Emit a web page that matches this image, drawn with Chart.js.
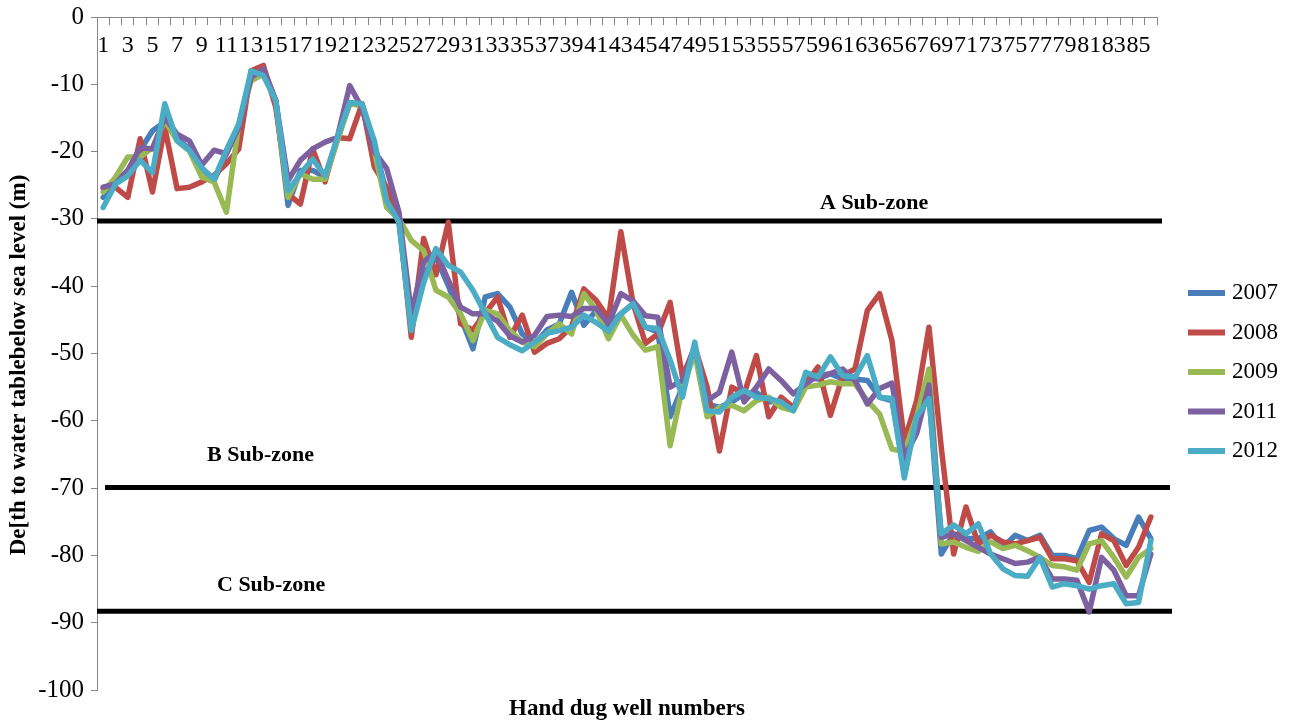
<!DOCTYPE html>
<html>
<head>
<meta charset="utf-8">
<title>Depth to water table of hand dug wells</title>
<script src="https://cdn.jsdelivr.net/npm/chart.js@4.4.1/dist/chart.umd.min.js"></script>
<style>
  html, body { margin: 0; padding: 0; background: #ffffff; }
  #wrap { width: 1290px; height: 727px; }
</style>
</head>
<body>
<div id="wrap"><canvas id="chart" width="1290" height="727"></canvas></div>
<script>
// Well numbers along the category axis
const wells = [
  '1','2','3','4','5','6','7','8','9','10','11','12','13','14','15','16','17','18','19','20',
  '21','22','23','24','25','26','27','28','29','30','31','32','33','34','35','36','37','38','39','40',
  '41','42','43','44','45','46','47','48','49','50','51','52','53','54','55','56','57','58','59','60',
  '61','62','63','64','65','66','67','68','69','70','71','72','73','74','75','76','77','78','79','80',
  '81','82','83','84','85','86'
];

// Survey years
const years = ['2007', '2008', '2009', '2011', '2012'];

// Depth to water table below sea level (m), one value per well
const d2007 = [
  -26.8,-24.5,-22.8,-19.8,-16.9,-15.6,-18.1,-19.6,-22.5,-24.3,
  -20.3,-16.1,-8.5,-7.7,-12.4,-28.0,-22.8,-22.8,-23.8,-18.1,
  -12.9,-12.9,-18.9,-26.3,-30.5,-46.3,-38.2,-35.7,-39.9,-44.6,
  -49.3,-41.6,-41.1,-43.1,-47.1,-48.6,-46.5,-45.6,-40.9,-45.8,
  -43.6,-45.8,-44.1,-42.6,-46.1,-46.8,-59.4,-55.0,-49.0,-57.5,
  -58.0,-57.2,-56.0,-55.8,-57.2,-57.0,-58.3,-53.5,-53.8,-53.0,
  -53.8,-53.8,-54.0,-56.5,-57.0,-67.5,-60.0,-56.0,-79.8,-76.8,
  -77.5,-77.5,-76.5,-78.8,-77.0,-77.8,-77.0,-80.0,-80.0,-80.5,
  -76.3,-75.8,-77.5,-78.5,-74.3,-77.5
];
const d2008 = [
  -25.5,-25.3,-26.8,-18.1,-26.0,-16.4,-25.5,-25.3,-24.5,-23.5,
  -21.8,-19.6,-8.0,-7.2,-13.4,-26.3,-27.8,-19.6,-24.5,-17.9,
  -18.1,-12.9,-22.3,-25.3,-29.5,-47.6,-32.9,-38.3,-30.5,-45.6,
  -46.5,-44.0,-41.6,-47.6,-44.3,-49.8,-48.5,-47.8,-46.0,-40.4,
  -42.1,-44.8,-31.9,-42.6,-48.5,-47.1,-42.4,-53.5,-49.0,-55.0,
  -64.5,-55.0,-56.0,-50.3,-59.4,-56.5,-58.0,-54.5,-52.0,-59.2,
  -53.3,-52.3,-43.6,-41.1,-48.1,-63.0,-57.0,-46.1,-64.0,-79.8,
  -72.8,-78.3,-77.0,-78.0,-78.3,-77.8,-77.3,-80.5,-80.5,-80.8,
  -84.0,-76.8,-77.8,-81.5,-78.8,-74.3
];
const d2009 = [
  -26.0,-23.8,-20.8,-20.8,-19.4,-15.4,-18.4,-19.9,-23.8,-24.5,
  -29.0,-15.9,-9.5,-8.5,-12.4,-26.8,-23.3,-24.1,-24.1,-18.4,
  -12.9,-13.2,-19.9,-28.3,-30.0,-33.2,-34.7,-40.6,-41.6,-44.1,
  -48.1,-43.6,-44.1,-46.6,-48.3,-49.0,-47.1,-45.6,-47.1,-41.1,
  -43.6,-47.8,-44.3,-47.3,-49.5,-49.0,-63.7,-55.0,-50.0,-59.4,
  -58.0,-57.7,-58.5,-57.0,-56.5,-58.0,-58.5,-55.0,-54.7,-54.2,
  -54.5,-54.5,-57.0,-59.0,-64.2,-64.6,-59.4,-52.3,-78.3,-78.0,
  -78.8,-79.4,-78.0,-79.0,-78.5,-79.3,-80.3,-81.5,-81.7,-82.2,
  -78.3,-77.8,-80.3,-83.2,-80.3,-79.0
];
const d2011 = [
  -25.3,-24.8,-22.8,-19.4,-19.6,-14.9,-17.4,-18.4,-22.0,-19.8,
  -20.3,-16.4,-9.0,-7.7,-12.4,-24.3,-21.3,-19.6,-18.6,-17.9,
  -10.2,-13.5,-20.0,-22.5,-29.0,-44.0,-36.4,-34.9,-39.1,-43.1,
  -44.1,-44.1,-45.2,-47.4,-48.3,-47.3,-44.5,-44.3,-44.5,-43.3,
  -43.3,-45.6,-41.1,-42.2,-44.4,-44.6,-55.0,-54.0,-49.0,-57.0,
  -55.8,-49.8,-57.2,-55.0,-52.3,-54.0,-56.0,-54.5,-53.3,-53.0,
  -52.3,-54.0,-57.5,-55.2,-54.4,-65.4,-61.9,-54.7,-77.3,-76.8,
  -77.8,-78.8,-79.8,-80.5,-81.2,-81.0,-80.3,-83.5,-83.5,-83.7,
  -88.4,-80.3,-82.2,-86.0,-86.0,-79.8
];
const d2012 = [
  -28.3,-24.8,-23.6,-21.3,-23.1,-12.9,-18.4,-19.8,-22.4,-24.1,
  -19.8,-15.9,-8.0,-8.7,-12.4,-25.8,-23.3,-21.1,-23.6,-17.9,
  -12.7,-12.9,-18.4,-27.3,-30.5,-46.6,-39.5,-34.4,-36.9,-37.9,
  -40.6,-44.1,-47.6,-48.7,-49.6,-48.3,-47.0,-46.6,-46.1,-44.3,
  -45.4,-46.7,-44.1,-42.6,-46.1,-46.3,-51.0,-56.5,-48.3,-58.5,
  -58.7,-56.5,-55.5,-56.5,-56.7,-57.2,-58.5,-52.8,-53.5,-50.5,
  -53.3,-53.5,-50.3,-56.5,-56.7,-68.5,-59.4,-56.7,-76.8,-75.5,
  -76.8,-75.3,-79.8,-82.0,-83.0,-83.1,-80.3,-84.7,-84.2,-84.5,
  -85.0,-84.5,-84.2,-87.2,-87.0,-77.8
];

// Sub-zone boundaries (depth, m)
const zoneNames = ['A Sub-zone', 'B Sub-zone', 'C Sub-zone'];
const zoneDepths = [-30.3, -69.9, -88.3];

// Styling and placement
const seriesColors = ['#4A7EBB', '#BE4B48', '#98B954', '#7D60A0', '#4BACC6'];
const seriesValues = [d2007, d2008, d2009, d2011, d2012];
const zoneLayout = [
  { from: 0, past: 5,  labelX: 723, labelRise: 18 },
  { from: 8, past: 13, labelX: 110, labelRise: 32 },
  { from: 0, past: 15, labelX: 120, labelRise: 26 }
];
const SERIF = '"Liberation Serif", "Times New Roman", serif';
const AXIS_GREY = '#868686';

Chart.defaults.font.family = SERIF;
Chart.defaults.color = '#000000';

// Horizontal sub-zone boundaries with their names, beneath the series lines
const subZones = {
  id: 'subZones',
  beforeDatasetsDraw(chart) {
    const { ctx, chartArea: a, scales: { y } } = chart;
    ctx.save();
    ctx.strokeStyle = '#000000';
    ctx.lineWidth = 5;
    ctx.font = 'bold 22px ' + SERIF;
    ctx.fillStyle = '#000000';
    ctx.textAlign = 'left';
    ctx.textBaseline = 'middle';
    zoneDepths.forEach((depth, i) => {
      const py = y.getPixelForValue(depth);
      const z = zoneLayout[i];
      ctx.beginPath();
      ctx.moveTo(a.left + z.from, py);
      ctx.lineTo(a.right + z.past, py);
      ctx.stroke();
      ctx.fillText(zoneNames[i], a.left + z.labelX, py - z.labelRise);
    });
    ctx.restore();
  }
};

// Series key on the right and the rotated value-axis title
const sideText = {
  id: 'sideText',
  afterDraw(chart) {
    const { ctx } = chart;
    ctx.save();
    ctx.font = '23px ' + SERIF;
    ctx.textAlign = 'left';
    ctx.textBaseline = 'middle';
    chart.data.datasets.forEach((ds, i) => {
      const cy = 293 + i * 39.5;
      ctx.fillStyle = ds.borderColor;
      ctx.fillRect(1188, cy - 3, 37, 6);
      ctx.fillStyle = '#000000';
      ctx.fillText(ds.label, 1232, cy);
    });
    ctx.translate(19, 365);
    ctx.rotate(-Math.PI / 2);
    ctx.font = 'bold 23px ' + SERIF;
    ctx.textAlign = 'center';
    ctx.fillText('De[th to water tablebelow sea level (m)', 0, 0);
    ctx.restore();
  }
};

const datasets = years.map((yr, i) => ({
  label: yr,
  data: seriesValues[i],
  borderColor: seriesColors[i],
  backgroundColor: seriesColors[i],
  borderWidth: 5.5,
  pointRadius: 0,
  pointHoverRadius: 0,
  tension: 0,
  borderJoinStyle: 'round',
  borderCapStyle: 'round',
  order: years.length - i,
  xAxisID: 'x',
  yAxisID: 'y'
}));

new Chart(document.getElementById('chart'), {
  type: 'line',
  data: { labels: wells, datasets },
  plugins: [subZones, sideText],
  options: {
    responsive: false,
    animation: false,
    devicePixelRatio: 1,
    layout: { padding: { top: 17, right: 133, left: 0, bottom: 0 } },
    plugins: {
      legend: { display: false },
      tooltip: { enabled: false },
      title: { display: false }
    },
    scales: {
      x: {
        type: 'category',
        position: { y: 0 },
        offset: true,
        grid: {
          display: true,
          offset: true,
          drawOnChartArea: false,
          drawTicks: true,
          tickLength: 7,
          color: AXIS_GREY,
          lineWidth: 1
        },
        border: { display: true, color: AXIS_GREY, width: 1 },
        ticks: {
          autoSkip: false,
          maxRotation: 0,
          minRotation: 0,
          padding: 7,
          color: '#000000',
          font: { family: SERIF, size: 24 },
          callback: (v, i) => (i % 2 === 0 ? wells[i] : '')
        },
        afterFit: (s) => { s.paddingLeft = 0; s.paddingRight = 0; }
      },
      xTitle: {
        type: 'category',
        position: 'bottom',
        display: true,
        grid: { display: false },
        border: { display: false },
        ticks: { display: false },
        title: {
          display: true,
          text: 'Hand dug well numbers',
          color: '#000000',
          font: { family: SERIF, size: 23, weight: 'bold' },
          padding: { top: 4, bottom: 4 }
        },
        afterFit: (s) => { s.height = 37; s.paddingLeft = 0; s.paddingRight = 0; }
      },
      y: {
        type: 'linear',
        position: 'left',
        min: -100,
        max: 0,
        grid: {
          display: true,
          drawOnChartArea: false,
          drawTicks: true,
          tickLength: 6,
          color: AXIS_GREY
        },
        border: { display: true, color: AXIS_GREY, width: 1 },
        ticks: {
          stepSize: 10,
          padding: 7,
          color: '#000000',
          font: { family: SERIF, size: 25 }
        },
        afterFit: (s) => { s.width = 97; s.paddingTop = 0; s.paddingBottom = 0; }
      }
    }
  }
});
</script>
</body>
</html>
